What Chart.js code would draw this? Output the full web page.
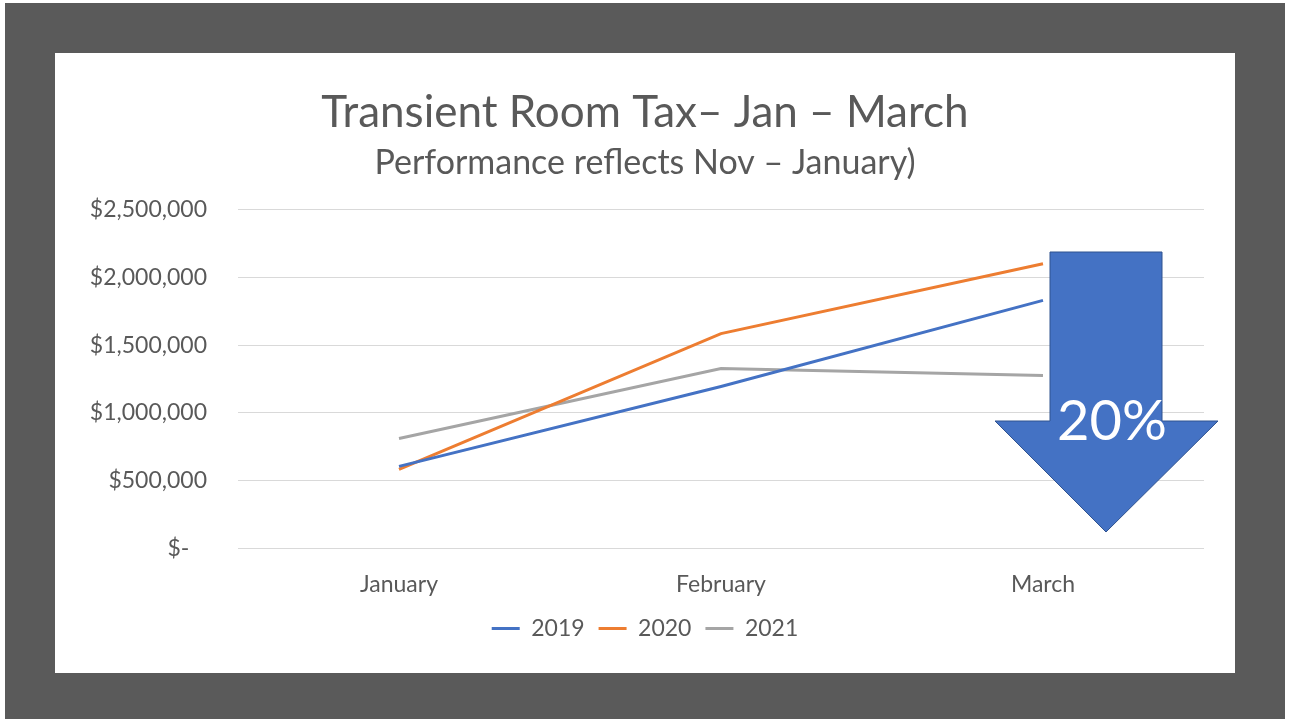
<!DOCTYPE html>
<html>
<head>
<meta charset="utf-8">
<script src="https://cdn.jsdelivr.net/npm/chart.js@4.4.0/dist/chart.umd.min.js"></script>
<style>
  html, body { margin: 0; padding: 0; background: #fff; }
  #frame { position: absolute; left: 5px; top: 3px; width: 1280px; height: 716px; background: #5a5a5a; }
  #panel { position: absolute; left: 55px; top: 53px; width: 1180px; height: 620px; background: #fff; }
</style>
</head>
<body>
<div id="frame"></div>
<div id="panel"><canvas id="taxChart" width="1180" height="620"></canvas></div>
<script>
// data
const months = ['January', 'February', 'March'];
const tax2019 = [605000, 1195000, 1830000];
const tax2020 = [583000, 1585000, 2100000];
const tax2021 = [811000, 1327000, 1276000];
const yTicks = [0, 500000, 1000000, 1500000, 2000000, 2500000];
const arrowLabel = '20%';

const FONT = 'Lato, "Open Sans", sans-serif';
const TXT = '#595959';

// blue down arrow drawn over the chart
const arrowPlugin = {
  id: 'arrow',
  afterDraw(chart) {
    const c = chart.ctx;
    c.save();
    c.beginPath();
    c.moveTo(995, 199);
    c.lineTo(1107, 199);
    c.lineTo(1107, 368);
    c.lineTo(1163, 368);
    c.lineTo(1051, 479);
    c.lineTo(940, 368);
    c.lineTo(995, 368);
    c.closePath();
    c.fillStyle = '#4472C4';
    c.fill();
    c.lineWidth = 1;
    c.strokeStyle = '#2F528F';
    c.stroke();
    c.fillStyle = '#fff';
    c.font = '56px ' + FONT;
    c.textAlign = 'center';
    c.textBaseline = 'middle';
    c.fillText(arrowLabel, 1057, 369);
    c.restore();
  }
};

var ctx = document.getElementById('taxChart').getContext('2d');
new Chart(ctx, {
  type: 'line',
  data: {
    labels: months,
    datasets: [
      { label: '2019', data: tax2019, borderColor: '#4472C4', backgroundColor: '#4472C4' },
      { label: '2020', data: tax2020, borderColor: '#ED7D31', backgroundColor: '#ED7D31' },
      { label: '2021', data: tax2021, borderColor: '#A5A5A5', backgroundColor: '#A5A5A5' }
    ]
  },
  options: {
    responsive: false,
    animation: false,
    layout: { padding: { top: 20, right: 31, bottom: 23, left: 31 } },
    elements: {
      line: { borderWidth: 3, tension: 0 },
      point: { radius: 0 }
    },
    scales: {
      x: {
        offset: true,
        grid: { display: false, drawTicks: false },
        border: { display: false },
        afterFit: (s) => { s.height = s.height - 17; },
        ticks: { color: TXT, font: { family: FONT, size: 23 }, padding: 22 }
      },
      y: {
        min: 0,
        max: 2500000,
        afterBuildTicks: (s) => { s.ticks = yTicks.map(v => ({ value: v })); },
        afterFit: (s) => { s.width = 152; },
        grid: { color: '#D9D9D9', lineWidth: 1, drawTicks: false },
        border: { display: false },
        ticks: {
          color: TXT,
          font: { family: FONT, size: 23 },
          padding: 31,
          callback: (v) => v === 0 ? '$-   ' : '$' + v.toLocaleString('en-US')
        }
      }
    },
    plugins: {
      title: {
        display: true,
        text: 'Transient Room Tax– Jan – March',
        color: TXT,
        font: { family: FONT, size: 44, weight: 'normal' },
        padding: { top: 13, bottom: 0 }
      },
      subtitle: {
        display: true,
        text: 'Performance reflects Nov – January)',
        color: TXT,
        font: { family: FONT, size: 34, weight: 'normal' },
        padding: { top: 4, bottom: 26 }
      },
      legend: {
        position: 'bottom',
        labels: {
          color: TXT,
          font: { family: FONT, size: 23 },
          boxWidth: 28,
          boxHeight: 3,
          padding: 14,
          generateLabels: (chart) => Chart.defaults.plugins.legend.labels.generateLabels(chart)
            .map(item => Object.assign(item, { lineWidth: 0 }))
        }
      },
      tooltip: { enabled: false }
    }
  },
  plugins: [arrowPlugin]
});
</script>
</body>
</html>
